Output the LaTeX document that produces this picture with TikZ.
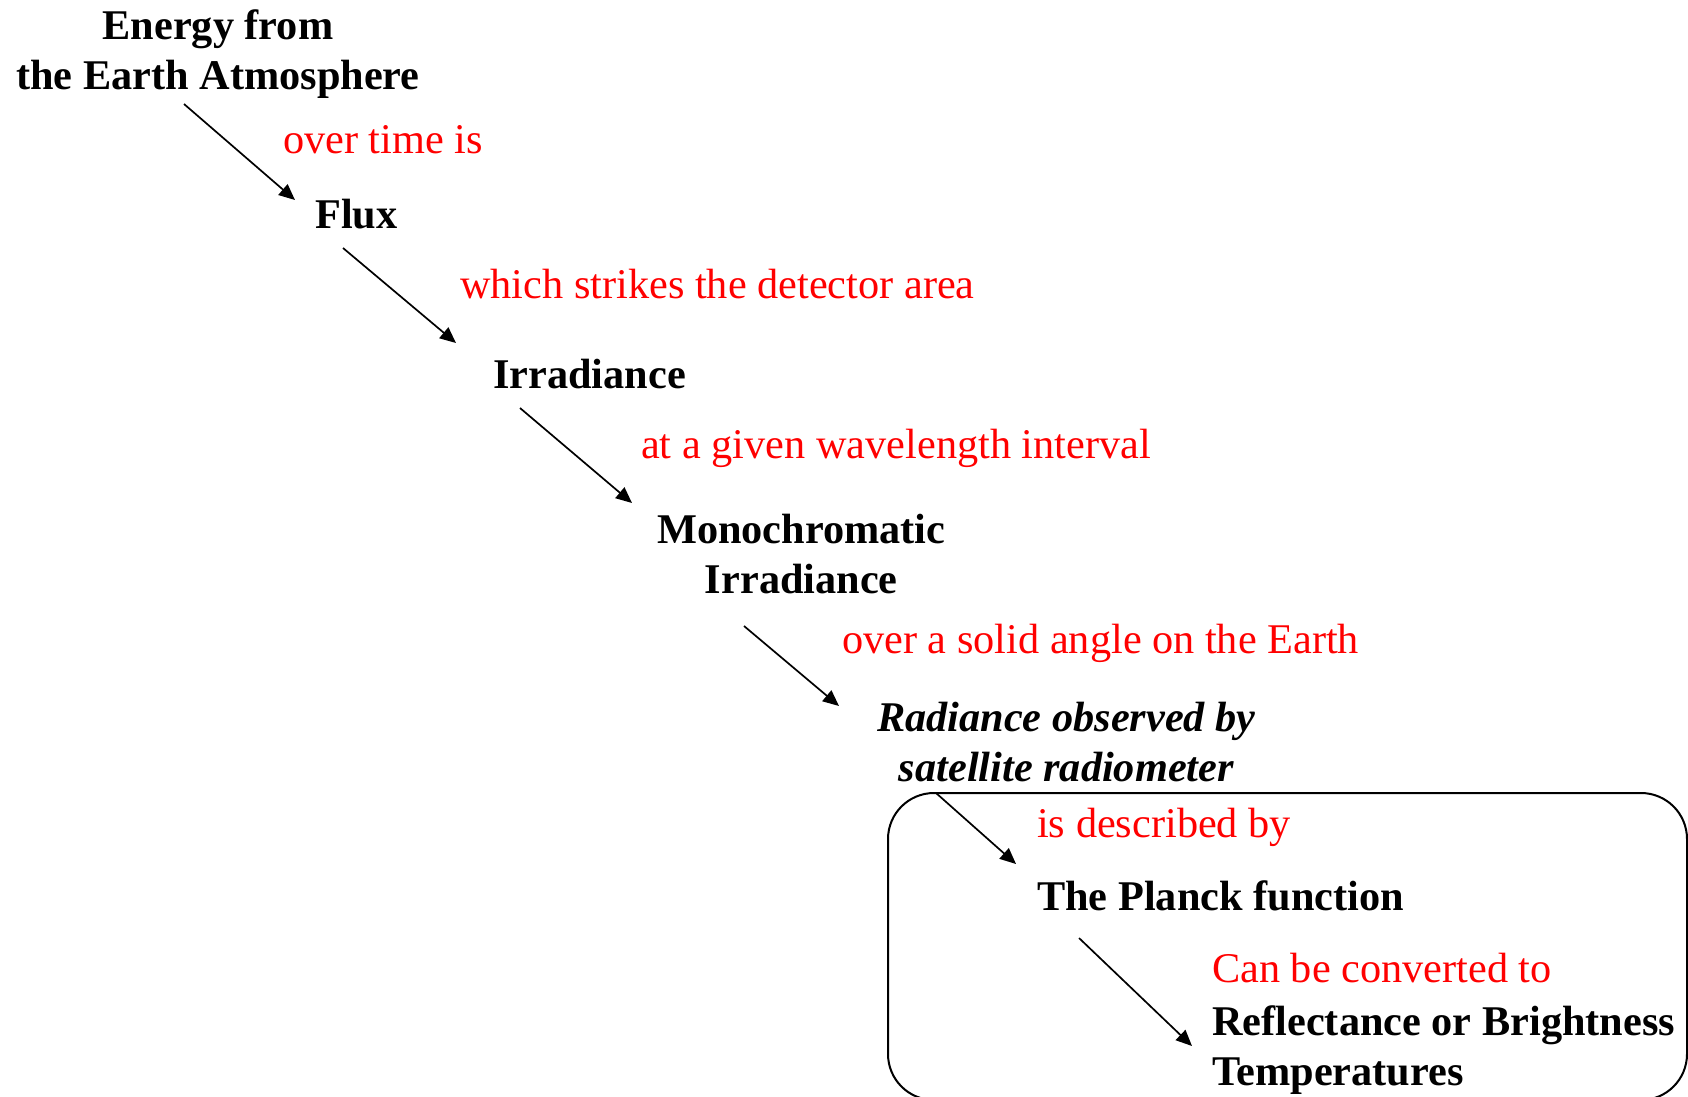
\documentclass[tikz,border=0pt]{standalone}
\usepackage{fontspec}
\setmainfont{Liberation Serif}
\usepackage{tikz}
\usetikzlibrary{arrows.meta}

\begin{document}
\begin{tikzpicture}[x=1pt,y=-1pt,>={Triangle[length=16pt,width=14pt]},
 every node/.style={inner sep=0pt,font=\fontsize{42.3}{50}\selectfont},
 term/.style={font=\fontsize{42.3}{50}\selectfont\bfseries},
 link/.style={text=red},
 arr/.style={->,line width=1.7pt}]
\useasboundingbox (0,0) rectangle (1688,1096);
\node[term,align=center,anchor=base] (energy) at (218,89) {Energy from\\the Earth Atmosphere};
\node[link,anchor=base west] (overtime) at (283,153) {over time is};
\node[term,anchor=base west] (flux) at (315,228) {Flux};
\node[link,anchor=base west] (strikes) at (460,298) {which strikes the detector area};
\node[term,anchor=base west] (irr) at (493,388) {Irradiance};
\node[link,anchor=base west] (interval) at (641,458) {at a given wavelength interval};
\node[term,align=center,anchor=base west] (mono) at (657,593) {Monochromatic\\Irradiance};
\node[link,anchor=base west] (solid) at (842,653) {over a solid angle on the Earth};
\node[term,font=\fontsize{42.3}{50}\selectfont\bfseries\itshape,align=center,anchor=base west] (rad) at (877,781) {Radiance observed by\\satellite radiometer};
\node[link,anchor=base west] (described) at (1037,837) {is described by};
\node[term,anchor=base west] (planck) at (1037,910) {The Planck function};
\node[link,anchor=base west] (convert) at (1212,982) {Can be converted to};
\node[term,align=left,anchor=base west] (refl) at (1212,1085) {Reflectance or Brightness\\Temperatures};
% rounded frame round the last two steps
\draw[line width=2pt,rounded corners=46pt] (888,793) rectangle (1687,1100);
\draw[arr] ([shift={(-34,15)}]energy.base) -- ([shift={(-20,-28)}]flux.base west);
\draw[arr] ([shift={(28,20)}]flux.base west) -- ([shift={(-37,-45)}]irr.base west);
\draw[arr] ([shift={(27,20)}]irr.base west) -- ([shift={(-25,-90)}]mono.base west);
\draw[arr] ([shift={(87,33)}]mono.base west) -- ([shift={(-38,-75)}]rad.base west);
\draw[arr] ([shift={(59,12)}]rad.base west) -- ([shift={(-21,-46)}]planck.base west);
\draw[arr] ([shift={(42,28)}]planck.base west) -- ([shift={(-20,-39)}]refl.base west);
\end{tikzpicture}
\end{document}
